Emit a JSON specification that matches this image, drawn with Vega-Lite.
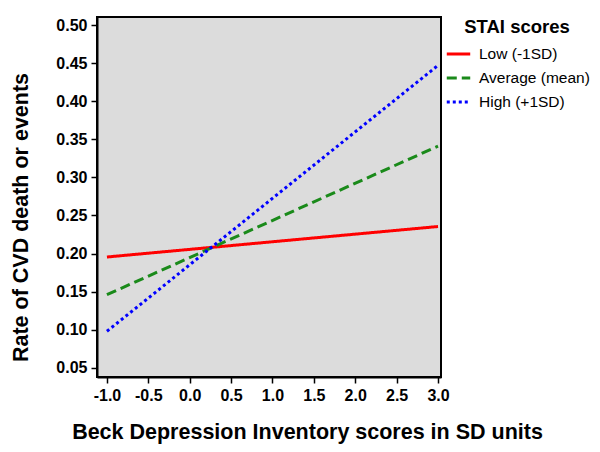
{
  "$schema": "https://vega.github.io/schema/vega-lite/v6.json",
  "autosize": {"type": "none"},
  "width": 344,
  "height": 360,
  "padding": {"left": 97, "top": 17, "right": 159, "bottom": 75},
  "background": "white",
  "config": {
    "font": "Liberation Sans",
    "view": {"fill": "#dcdcdc", "stroke": "black", "strokeWidth": 2}
  },
  "data": {
    "values": [
      {"bdi": -1, "rate": 0.1955, "group": "Low (-1SD)"},
      {"bdi": 3, "rate": 0.2355, "group": "Low (-1SD)"},
      {"bdi": -1, "rate": 0.146, "group": "Average (mean)"},
      {"bdi": 3, "rate": 0.341, "group": "Average (mean)"},
      {"bdi": -1, "rate": 0.098, "group": "High (+1SD)"},
      {"bdi": 3, "rate": 0.447, "group": "High (+1SD)"}
    ]
  },
  "mark": {"type": "line", "strokeWidth": 3, "clip": true},
  "encoding": {
    "x": {
      "field": "bdi", "type": "quantitative",
      "scale": {"domain": [-1.12, 3.036], "nice": false, "zero": false},
      "axis": {
        "title": "Beck Depression Inventory scores in SD units",
        "values": [-1, -0.5, 0, 0.5, 1, 1.5, 2, 2.5, 3],
        "labelExpr": "datum.value < 0 ? '-' + format(-datum.value, '.1f') : format(datum.value, '.1f')",
        "grid": false,
        "domainColor": "black", "domainWidth": 2,
        "tickColor": "black", "tickWidth": 1.5, "tickSize": 6,
        "labelFont": "Liberation Sans", "labelFontWeight": "bold", "labelFontSize": 16, "labelColor": "black",
        "labelPadding": 4,
        "titleFont": "Liberation Sans", "titleFontWeight": "bold", "titleFontSize": 21.5, "titleColor": "black",
        "titleX": 210, "titleY": 44, "titleAlign": "center", "titleBaseline": "top"
      }
    },
    "y": {
      "field": "rate", "type": "quantitative",
      "scale": {"domain": [0.038, 0.5105], "nice": false, "zero": false},
      "axis": {
        "title": "Rate of CVD death or events",
        "values": [0.05, 0.1, 0.15, 0.2, 0.25, 0.3, 0.35, 0.4, 0.45, 0.5],
        "format": ".2f",
        "grid": false,
        "domainColor": "black", "domainWidth": 2,
        "tickColor": "black", "tickWidth": 1.5, "tickSize": 6,
        "labelFont": "Liberation Sans", "labelFontWeight": "bold", "labelFontSize": 16, "labelColor": "black",
        "labelPadding": 4,
        "titleFont": "Liberation Sans", "titleFontWeight": "bold", "titleFontSize": 21.5, "titleColor": "black",
        "titleX": -76, "titleY": 200, "titleAlign": "center", "titleBaseline": "middle", "titleAngle": -90
      }
    },
    "color": {
      "field": "group", "type": "nominal",
      "scale": {"domain": ["Low (-1SD)", "Average (mean)", "High (+1SD)"], "range": ["#ff0000", "#1a8a1a", "#0000ff"]},
      "legend": {
        "title": "STAI scores",
        "orient": "none", "legendX": 348, "legendY": 1,
        "titleFont": "Liberation Sans", "titleFontWeight": "bold", "titleFontSize": 18.5, "titleColor": "black",
        "titleAnchor": "middle", "titlePadding": 4,
        "labelFont": "Liberation Sans", "labelFontSize": 15.5, "labelColor": "black",
        "symbolType": "stroke", "symbolStrokeWidth": 3, "symbolSize": 550,
        "rowPadding": 2, "labelOffset": 7
      }
    },
    "strokeDash": {
      "field": "group", "type": "nominal",
      "scale": {"domain": ["Low (-1SD)", "Average (mean)", "High (+1SD)"], "range": [[1, 0], [10, 5], [3, 3]]},
      "legend": {
        "title": "STAI scores"
      }
    }
  }
}
